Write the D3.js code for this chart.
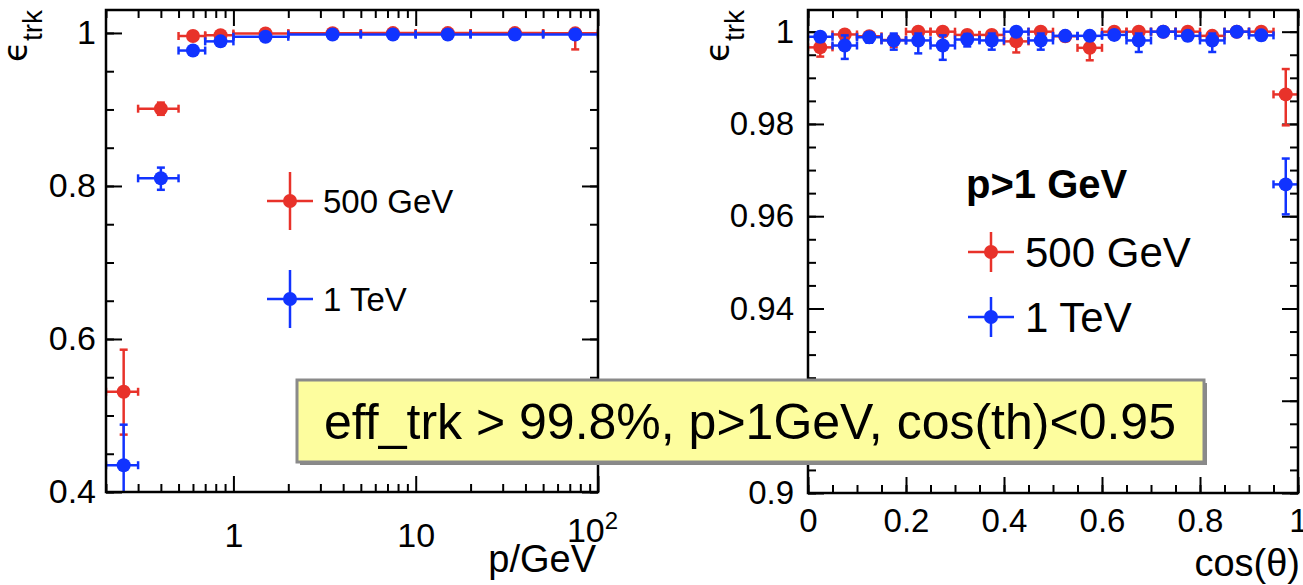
<!DOCTYPE html>
<html><head><meta charset="utf-8">
<script src="https://cdn.jsdelivr.net/npm/d3@7"></script>
<style>
body{margin:0;background:#fff}
svg{display:block}
text{font-family:"Liberation Sans",Arial,Helvetica,sans-serif;fill:#000}
</style>
</head><body>
<svg id="c" width="1303" height="585"></svg>
<script>
// ---------- DATA: left panel (efficiency vs momentum) ----------
const pCenter = [0.25, 0.4, 0.6, 0.85, 1.5, 3.5, 7.5, 15, 35, 75];
const pLow    = [0.2, 0.3, 0.5, 0.7, 1, 2, 5, 10, 20, 50];
const pHigh   = [0.3, 0.5, 0.7, 1, 2, 5, 10, 20, 50, 100];
const effP500   = [0.531, 0.901, 0.996, 0.997, 0.9992, 0.9997, 0.9998, 0.9998, 0.9998, 0.9995];
const errLoP500 = [0.056, 0.008, 0.003, 0.002, 0.001, 0.001, 0.001, 0.001, 0.002, 0.021];
const errHiP500 = [0.055, 0.008, 0.002, 0.002, 0.0008, 0.0003, 0.0002, 0.0002, 0.0002, 0.0005];
const effP1T    = [0.435, 0.810, 0.977, 0.989, 0.995, 0.998, 0.998, 0.998, 0.998, 0.998];
const errLoP1T  = [0.050, 0.015, 0.004, 0.003, 0.002, 0.001, 0.001, 0.001, 0.001, 0.001];
const errHiP1T  = [0.053, 0.014, 0.004, 0.003, 0.002, 0.001, 0.001, 0.001, 0.001, 0.001];
const leftYTicks = [0.4, 0.6, 0.8, 1];
const leftXTicks = [1, 10, 100];
const leftXLabels = ["1", "10", "10"];

// ---------- DATA: right panel (efficiency vs cos(theta)) ----------
const cCenter = [0.025,0.075,0.125,0.175,0.225,0.275,0.325,0.375,0.425,0.475,0.525,0.575,0.625,0.675,0.725,0.775,0.825,0.875,0.925,0.975];
const cHalf = 0.025;
const effC500   = [0.9966,0.9994,0.9990,0.9982,1.0000,1.0000,0.9993,0.9993,0.9979,1.0000,0.9990,0.9965,1.0000,1.0000,1.0000,1.0000,0.9991,1.0000,1.0000,0.9864];
const errLoC500 = [0.0020,0.0010,0.0010,0.0015,0.0004,0.0004,0.0010,0.0010,0.0024,0.0004,0.0010,0.0027,0.0004,0.0004,0.0004,0.0004,0.0010,0.0004,0.0004,0.0067];
const errHiC500 = [0.0015,0.0005,0.0008,0.0012,0.0000,0.0000,0.0006,0.0006,0.0015,0.0000,0.0008,0.0020,0.0000,0.0000,0.0000,0.0000,0.0008,0.0000,0.0000,0.0055];
const effC1T    = [0.9989,0.9970,0.9988,0.9981,0.9981,0.9970,0.9983,0.9981,1.0000,0.9981,0.9991,0.9991,0.9993,0.9981,1.0000,0.9991,0.9981,1.0000,0.9992,0.9669];
const errLoC1T  = [0.0010,0.0029,0.0012,0.0020,0.0028,0.0031,0.0015,0.0020,0.0004,0.0020,0.0010,0.0010,0.0010,0.0025,0.0004,0.0010,0.0025,0.0004,0.0010,0.0065];
const errHiC1T  = [0.0008,0.0022,0.0010,0.0015,0.0015,0.0022,0.0012,0.0015,0.0000,0.0015,0.0008,0.0008,0.0006,0.0015,0.0000,0.0008,0.0015,0.0000,0.0008,0.0056];
const rightYTicks = [0.9, 0.92, 0.94, 0.96, 0.98, 1];
const rightYLabels = ["0.9","0.92","0.94","0.96","0.98","1"];
const rightXTicks = [0, 0.2, 0.4, 0.6, 0.8, 1];
const rightXLabels = ["0","0.2","0.4","0.6","0.8","1"];

const seriesNames = ["500 GeV", "1 TeV"];
const seriesColors = ["#e8322a", "#1133ff"];

// ---------- DRAWING ----------
const svg = d3.select("#c");
const MR = 7;

function panel(cfg){
  const g = svg.append("g");
  const clipId = "clip" + cfg.id;
  svg.append("clipPath").attr("id", clipId).append("rect")
    .attr("x", cfg.x0).attr("y", cfg.y0).attr("width", cfg.x1-cfg.x0).attr("height", cfg.y1-cfg.y0);

  const x = cfg.x, y = cfg.y;
  const lw = 2;
  const mk = (axis, tr, ticks, size) => {
    const a = g.append("g").attr("transform", tr)
      .call(axis.tickValues(ticks).tickSize(size).tickSizeOuter(0).tickFormat(""));
    a.select(".domain").remove();
    a.selectAll("line").attr("stroke","#000").attr("stroke-width",lw);
    return a;
  };
  mk(d3.axisBottom(x), `translate(0,${cfg.y1})`, cfg.xMinor, -cfg.minorLen);
  mk(d3.axisTop(x), `translate(0,${cfg.y0})`, cfg.xMinor, -cfg.minorLen);
  mk(d3.axisLeft(y), `translate(${cfg.x0},0)`, cfg.yMinor, -cfg.minorLen);
  mk(d3.axisRight(y), `translate(${cfg.x1},0)`, cfg.yMinor, -cfg.minorLen);
  mk(d3.axisTop(x), `translate(0,${cfg.y0})`, cfg.xMajor, -cfg.majorLen);
  mk(d3.axisRight(y), `translate(${cfg.x1},0)`, cfg.yMajor, -cfg.majorLen);

  const ax = g.append("g").attr("transform", `translate(0,${cfg.y1})`)
    .call(d3.axisBottom(x).tickValues(cfg.xMajor).tickSize(-cfg.majorLen).tickSizeOuter(0)
      .tickPadding(cfg.xPad).tickFormat((d,i)=>cfg.xLabels[i]));
  ax.select(".domain").remove();
  ax.selectAll("line").attr("stroke","#000").attr("stroke-width",lw);
  ax.selectAll("text").attr("font-size", cfg.labelSize).attr("font-family",'"Liberation Sans",Arial,sans-serif').attr("fill","#000");

  const ay = g.append("g").attr("transform", `translate(${cfg.x0},0)`)
    .call(d3.axisLeft(y).tickValues(cfg.yMajor).tickSize(-cfg.majorLen).tickSizeOuter(0)
      .tickPadding(cfg.yPad).tickFormat((d,i)=>cfg.yLabels[i]));
  ay.select(".domain").remove();
  ay.selectAll("line").attr("stroke","#000").attr("stroke-width",lw);
  ay.selectAll("text").attr("font-size", cfg.labelSize).attr("font-family",'"Liberation Sans",Arial,sans-serif').attr("fill","#000");

  if (cfg.after) cfg.after(ax, ay);

  const dg = g.append("g").attr("clip-path", `url(#${clipId})`);
  const cap = 4;
  cfg.series.forEach(s => {
    const sg = dg.append("g").attr("stroke", s.color).attr("fill", s.color).attr("stroke-width", 2.5);
    s.xc.forEach((xc, i) => {
      const px = x(xc), py = y(s.v[i]);
      const xl = x(s.xl[i]), xh = x(s.xh[i]);
      const yl = y(s.v[i]-s.el[i]), yh = y(s.v[i]+s.eh[i]);
      sg.append("line").attr("x1",xl).attr("x2",xh).attr("y1",py).attr("y2",py);
      sg.append("line").attr("x1",xl).attr("x2",xl).attr("y1",py-cap).attr("y2",py+cap);
      sg.append("line").attr("x1",xh).attr("x2",xh).attr("y1",py-cap).attr("y2",py+cap);
      if (s.el[i] > 0) {
        sg.append("line").attr("x1",px).attr("x2",px).attr("y1",py).attr("y2",yl);
        sg.append("line").attr("x1",px-cap).attr("x2",px+cap).attr("y1",yl).attr("y2",yl);
      }
      if (s.eh[i] > 0) {
        sg.append("line").attr("x1",px).attr("x2",px).attr("y1",py).attr("y2",yh);
        sg.append("line").attr("x1",px-cap).attr("x2",px+cap).attr("y1",yh).attr("y2",yh);
      }
      sg.append("circle").attr("cx",px).attr("cy",py).attr("r",MR).attr("stroke","none");
    });
  });

  g.append("rect").attr("x",cfg.x0).attr("y",cfg.y0).attr("width",cfg.x1-cfg.x0).attr("height",cfg.y1-cfg.y0)
    .attr("fill","none").attr("stroke","#000").attr("stroke-width",2.5);
  return g;
}

// Left panel
const L = {x0:106, x1:598, y0:10, y1:492};
const xL = d3.scaleLog().domain([0.2, 100]).range([L.x0, L.x1]);
const yL = d3.scaleLinear().domain([0.4, 1.03]).range([L.y1, L.y0]);
const logMinor = [];
[0.1, 1, 10].forEach(dec => { for (let k=2;k<=9;k++){ const v=k*dec; if (v>=0.2 && v<100) logMinor.push(v);} });
panel({
  id:"L", ...L, x:xL, y:yL,
  xMajor:leftXTicks, xLabels:leftXLabels, yMajor:leftYTicks, yLabels:leftYTicks.map(String),
  xMinor:logMinor, yMinor:d3.range(0.4, 1.03, 0.05),
  majorLen:16, minorLen:8, labelSize:34, xPad:31, yPad:10,
  after:(ax, ay) => {
    ax.selectAll(".tick").filter(d => d === 100).select("text")
      .attr("x",-6).attr("dy","0.55em").append("tspan").attr("font-size",24).attr("dy","-0.55em").text("2");
  },
  series:[
    {color:seriesColors[0], xc:pCenter, xl:pLow, xh:pHigh, v:effP500, el:errLoP500, eh:errHiP500},
    {color:seriesColors[1], xc:pCenter, xl:pLow, xh:pHigh, v:effP1T, el:errLoP1T, eh:errHiP1T}
  ]
});

// Right panel
const R = {x0:808, x1:1298, y0:10, y1:493};
const xR = d3.scaleLinear().domain([0, 1]).range([R.x0, R.x1]);
const yR = d3.scaleLinear().domain([0.9, 1.0047]).range([R.y1, R.y0]);
panel({
  id:"R", ...R, x:xR, y:yR,
  xMajor:rightXTicks, xLabels:rightXLabels, yMajor:rightYTicks, yLabels:rightYLabels,
  xMinor:d3.range(0, 1.0001, 0.05), yMinor:d3.range(0.9, 1.0047, 0.005),
  majorLen:16, minorLen:8, labelSize:33, xPad:16, yPad:14,
  series:[
    {color:seriesColors[0], xc:cCenter, xl:cCenter.map(c=>c-cHalf), xh:cCenter.map(c=>c+cHalf), v:effC500, el:errLoC500, eh:errHiC500},
    {color:seriesColors[1], xc:cCenter, xl:cCenter.map(c=>c-cHalf), xh:cCenter.map(c=>c+cHalf), v:effC1T, el:errLoC1T, eh:errHiC1T}
  ]
});

// Axis titles
function yTitle(xp, yp){
  const t = svg.append("text").attr("transform",`translate(${xp},${yp}) rotate(-90)`).attr("text-anchor","end");
  t.append("tspan").attr("font-size",34).attr("font-family","DejaVu Sans").text("ϵ");
  t.append("tspan").attr("font-size",28).attr("dy",15).text("trk");
}
yTitle(27, 10);
yTitle(729, 10);
svg.append("text").attr("x",596).attr("y",572).attr("text-anchor","end").attr("font-size",38).text("p/GeV");
svg.append("text").attr("x",1300).attr("y",576).attr("text-anchor","end").attr("font-size",38).text("cos(θ)");

// Legends
function legendEntry(cx, cy, hw, hh, color, label, tx, fs){
  const g = svg.append("g").attr("stroke", color).attr("stroke-width", 2.5);
  g.append("line").attr("x1",cx-hw).attr("x2",cx+hw).attr("y1",cy).attr("y2",cy);
  g.append("line").attr("x1",cx).attr("x2",cx).attr("y1",cy-hh).attr("y2",cy+hh);
  g.append("circle").attr("cx",cx).attr("cy",cy).attr("r",MR).attr("fill",color).attr("stroke","none");
  svg.append("text").attr("x",tx).attr("y",cy).attr("dy","0.36em").attr("font-size",fs).text(label);
}
legendEntry(290, 201, 23, 29, seriesColors[0], seriesNames[0], 323, 33);
legendEntry(290, 299, 23, 29, seriesColors[1], seriesNames[1], 323, 33);
svg.append("text").attr("x",966).attr("y",198).attr("font-size",40).attr("font-weight","bold").text("p>1 GeV");
legendEntry(991, 252, 23, 20, seriesColors[0], seriesNames[0], 1025, 42);
legendEntry(991, 317, 23, 20, seriesColors[1], seriesNames[1], 1025, 42);

// Yellow note box
svg.append("rect").attr("x",300).attr("y",383).attr("width",907).attr("height",82).attr("fill","#888");
svg.append("rect").attr("x",297).attr("y",380).attr("width",907).attr("height",82)
  .attr("fill","#fdfd9e").attr("stroke","#8a8a8a").attr("stroke-width",3);
svg.append("text").attr("x",750).attr("y",421).attr("dy","0.36em").attr("text-anchor","middle")
  .attr("font-size",50).text("eff_trk > 99.8%, p>1GeV, cos(th)<0.95");
</script>
</body></html>
